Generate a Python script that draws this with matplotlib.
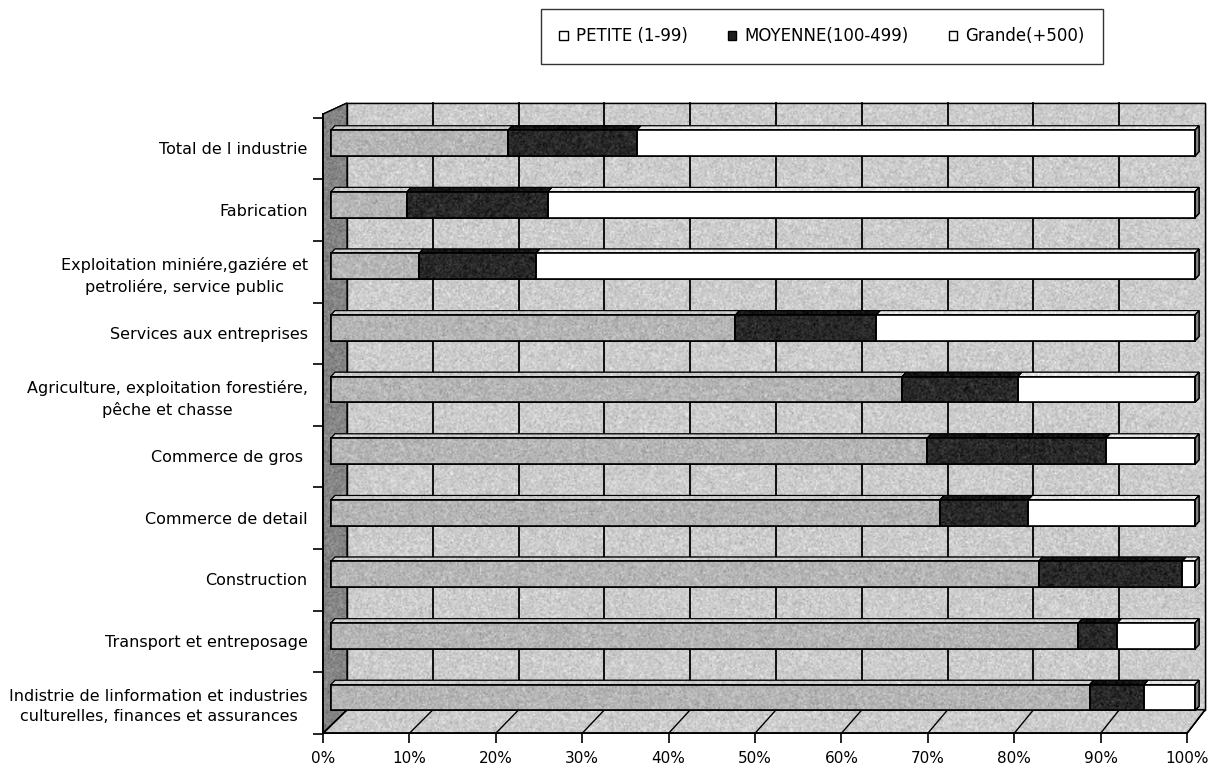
import numpy as np
import matplotlib.pyplot as plt
from matplotlib.patches import Polygon, Patch

plt.rcParams['font.family'] = ['DejaVu Sans']

# Répartition de l'emploi par taille d'entreprise (%)
categories = [
    "Total de l industrie",
    "Fabrication",
    "Exploitation miniére,gaziére et\npetroliére, service public",
    "Services aux entreprises",
    "Agriculture, exploitation forestiére,\npêche et chasse",
    "Commerce de gros ",
    "Commerce de detail",
    "Construction",
    "Transport et entreposage",
    "Indistrie de linformation et industries\nculturelles, finances et assurances",
]
petite = [20.5, 8.8, 10.2, 46.8, 66.1, 69.0, 70.5, 81.9, 86.5, 87.8]
moyenne = [14.9, 16.3, 13.5, 16.3, 13.4, 20.7, 10.2, 16.6, 4.5, 6.3]
grande = [64.6, 74.9, 76.3, 36.9, 20.5, 10.3, 19.3, 1.5, 9.0, 5.9]
series_names = ["PETITE (1-99)", "MOYENNE(100-499)", "Grande(+500)"]
pct_ticks = list(range(0, 101, 10))

# pseudo 3D : plan avant, plan des barres, mur du fond
FRONT_Y = 9.58
BACK_Y = 9.20
WALL_TOP = -0.65
SIDE_TOP = -0.47
BAR_X0 = 0.93
BAR_H = 0.21
TOP_DX, TOP_DY = 0.46, 0.07


def back_x(v):
    return 2.78 + 0.993 * v


rng = np.random.default_rng(7)


def textured(ax, verts, gray, amp=0.05, z=1, lw=1.0):
    poly = Polygon(verts, closed=True, facecolor=(gray, gray, gray),
                   edgecolor='black', linewidth=lw, zorder=z)
    ax.add_patch(poly)
    xs = [p[0] for p in verts]
    ys = [p[1] for p in verts]
    nx = max(int((max(xs) - min(xs)) * 8.64 / 1.5), 2)
    ny = max(int((max(ys) - min(ys)) * 61.6 / 1.5), 2)
    img = np.clip(gray + rng.normal(0, amp, (ny, nx)), 0, 1)
    im = ax.imshow(img, cmap='gray', vmin=0, vmax=1, aspect='auto',
                   extent=(min(xs), max(xs), max(ys), min(ys)),
                   interpolation='bilinear', zorder=z)
    im.set_clip_path(poly)
    edge = Polygon(verts, closed=True, facecolor='none', edgecolor='black',
                   linewidth=lw, zorder=z + 0.01)
    ax.add_patch(edge)


fig = plt.figure(figsize=(12.1, 7.69), dpi=100)
ax = fig.add_axes([300 / 1210, 24 / 769, 910 / 1210, 650 / 769])

# mur du fond
textured(ax, [(back_x(0), WALL_TOP), (back_x(100), WALL_TOP),
              (back_x(100), BACK_Y), (back_x(0), BACK_Y)], 0.80, z=1)
for v in pct_ticks[1:-1]:
    ax.plot([back_x(v), back_x(v)], [WALL_TOP, BACK_Y], color='black', lw=1.3, zorder=2)

# mur de gauche et sol
textured(ax, [(0, FRONT_Y), (0, SIDE_TOP), (back_x(0), WALL_TOP), (back_x(0), BACK_Y)],
         0.52, z=2)
textured(ax, [(0, FRONT_Y), (100, FRONT_Y), (back_x(100), BACK_Y), (back_x(0), BACK_Y)],
         0.80, z=2)
for v in pct_ticks:
    ax.plot([v, back_x(v)], [FRONT_Y, BACK_Y], color='black', lw=1.0, zorder=3)

# barres empilées
styles = [
    (0.71, 0.80),   # petite : face, dessus
    (0.16, 0.08),   # moyenne
    (1.00, 0.90),   # grande
]
for i, vals in enumerate(zip(petite, moyenne, grande)):
    y_top, y_bot = i - BAR_H, i + BAR_H
    left = 0.0
    for (face, top), w in zip(styles, vals):
        x0, x1 = BAR_X0 + left, BAR_X0 + left + w
        textured(ax, [(x0, y_top), (x1, y_top), (x1 + TOP_DX, y_top - TOP_DY),
                      (x0 + TOP_DX, y_top - TOP_DY)], top,
                 amp=0.04 if top < 0.95 else 0.0, z=4, lw=0.8)
        textured(ax, [(x0, y_top), (x1, y_top), (x1, y_bot), (x0, y_bot)], face,
                 amp=0.05 if face < 0.95 else 0.0, z=5, lw=1.2)
        left += w
    x_end = BAR_X0 + left
    textured(ax, [(x_end, y_top), (x_end + TOP_DX, y_top - TOP_DY),
                  (x_end + TOP_DX, y_bot - TOP_DY), (x_end, y_bot)], 0.50,
             amp=0.0, z=5, lw=1.0)

# axes
for s in ['top', 'right']:
    ax.spines[s].set_visible(False)
ax.spines['bottom'].set_position(('data', FRONT_Y))
ax.spines['bottom'].set_bounds(0, 100)
ax.spines['left'].set_position(('data', 0))
ax.spines['left'].set_bounds(SIDE_TOP, FRONT_Y)
for s in ['bottom', 'left']:
    ax.spines[s].set_linewidth(1.3)
    ax.spines[s].set_zorder(6)

ax.set_xticks(pct_ticks, [f"{v}%" for v in pct_ticks])
ax.tick_params(axis='x', direction='out', length=7, width=1.2, labelsize=11, pad=6)

ax.set_yticks([k - 0.41 for k in range(11)], [''] * 11)
ax.tick_params(axis='y', which='major', direction='out', length=7, width=1.2)
ax.set_yticks([i + 0.08 for i in range(len(categories))], categories, minor=True)
ax.tick_params(axis='y', which='minor', length=0, labelsize=11.5, pad=11)
for lab in ax.get_yticklabels(minor=True):
    lab.set_multialignment('center')
    lab.set_linespacing(1.45)

ax.set_xlim(-2.66, 102.66)
ax.set_ylim(9.77, -0.78)

handles = [Patch(facecolor='white', edgecolor='black', lw=1.0),
           Patch(facecolor='#1e1e1e', edgecolor='black', lw=1.0),
           Patch(facecolor='white', edgecolor='black', lw=1.0)]
leg = fig.legend(handles, series_names, ncol=3, loc='upper left',
                 bbox_to_anchor=(541 / 1210, 1 - 9 / 769), fontsize=12,
                 frameon=True, fancybox=False, handlelength=0.5, handleheight=0.5,
                 handletextpad=0.5, columnspacing=2.4, borderpad=1.1,
                 borderaxespad=0)
leg.get_frame().set_edgecolor('black')
leg.get_frame().set_linewidth(1.0)

fig.savefig('out.png', dpi=100)
